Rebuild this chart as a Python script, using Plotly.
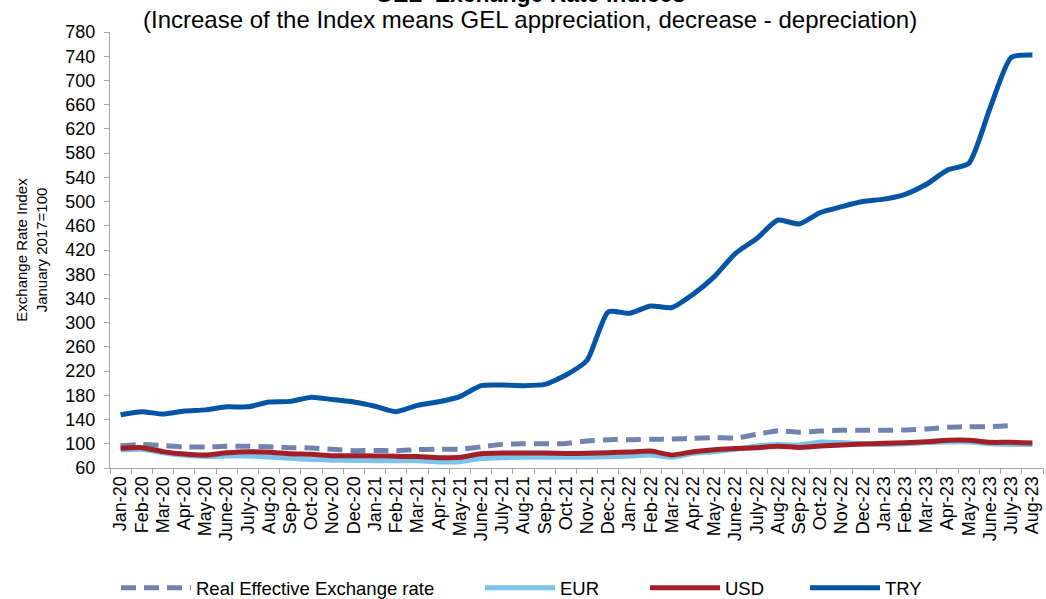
import plotly.graph_objects as go

months = ["Jan-20", "Feb-20", "Mar-20", "Apr-20", "May-20", "June-20", "July-20", "Aug-20", "Sep-20", "Oct-20", "Nov-20", "Dec-20",
          "Jan-21", "Feb-21", "Mar-21", "Apr-21", "May-21", "June-21", "July-21", "Aug-21", "Sep-21", "Oct-21", "Nov-21", "Dec-21",
          "Jan-22", "Feb-22", "Mar-22", "Apr-22", "May-22", "June-22", "July-22", "Aug-22", "Sep-22", "Oct-22", "Nov-22", "Dec-22",
          "Jan-23", "Feb-23", "Mar-23", "Apr-23", "May-23", "June-23", "July-23", "Aug-23"]

reer = [96.8, 99, 97, 94.7, 94.7, 95.8, 95.8, 95, 93.6, 93, 90.8,
        88.6, 89, 88.5, 90.3, 91, 91, 95, 99, 100, 100, 100.5,
        104.6, 106.8, 106.8, 107.4, 108, 109, 110, 109.6, 115.6, 121.6, 119,
        121, 122.2, 122.2, 122.2, 122.7, 124.4, 127.2, 128.3, 128.3, 129.9, None]

eur = [90, 91, 85, 81, 79, 80, 80, 78, 76, 74, 73,
       72.5, 72, 72, 72, 70, 70.5, 75.5, 77, 77.6, 77.6, 77.6,
       77.6, 78.6, 79.8, 81.5, 77.6, 84.2, 87, 91, 96.3, 99, 98,
       103, 102, 100, 99, 100, 102, 103, 103, 100, 99, 99]

usd = [92.5, 93.6, 87, 83, 81.5, 85, 87, 86, 83.6, 82.6, 80.3,
       80.3, 80, 79.3, 78.8, 77, 77.6, 83.6, 84.8, 84.8, 84.8, 84,
       84.2, 85.3, 86.4, 88, 81.5, 87, 90.3, 92, 93.6, 95.8, 94,
       96.3, 98, 99.6, 100.7, 101.8, 103.4, 105.7, 105.7, 102.4, 102.4, 101.3]

try_ = [148, 153, 149, 154, 156, 161, 161, 169, 170, 177, 173, 169,
        162, 153, 163.5, 169.5, 178, 196, 197, 196, 198, 213.5, 238, 318,
        315.5, 327.5, 325, 347, 376, 414.5, 439, 469.5, 463, 482, 491.5, 500,
        504, 512, 528.5, 552, 563, 654, 738, 742]

y_ticks = list(range(60, 781, 40))

FONT = "Liberation Sans, Arial, sans-serif"

fig = go.Figure()
series = [
    ("Real Effective Exchange rate", reer, "#7082ae", "15px,8px", "legend"),
    ("EUR", eur, "#7cc3e9", "solid", "legend2"),
    ("USD", usd, "#a31f28", "solid", "legend3"),
    ("TRY", try_, "#0455a6", "solid", "legend4"),
]
for name, vals, color, dash, lg in series:
    fig.add_trace(go.Scatter(
        x=months, y=vals, name=name, mode="lines",
        line=dict(color=color, width=5, dash=dash, shape="spline", smoothing=0.6),
        legend=lg, connectgaps=False,
    ))

leg_common = dict(orientation="h", xref="container", yref="container",
                  yanchor="middle", xanchor="left", y=0.018,
                  font=dict(family=FONT, size=18.5, color="#000000"),
                  itemwidth=70, bgcolor="rgba(0,0,0,0)")

fig.update_layout(
    width=1046, height=599,
    margin=dict(l=110, r=3, t=32, b=131),
    paper_bgcolor="white", plot_bgcolor="white",
    font=dict(family=FONT, color="#000000"),
    showlegend=True,
    legend=dict(x=116 / 1046, **leg_common),
    legend2=dict(x=480 / 1046, **leg_common),
    legend3=dict(x=645 / 1046, **leg_common),
    legend4=dict(x=805 / 1046, **leg_common),
    xaxis=dict(
        type="category", categoryorder="array", categoryarray=months,
        tickmode="array", tickvals=months, ticktext=months,
        tickangle=-90, tickfont=dict(family=FONT, size=18, color="#000000"),
        showline=True, linecolor="#a6a6a6", linewidth=1,
        ticks="outside", ticklen=5, tickcolor="#a6a6a6", tickson="boundaries",
        showgrid=False, zeroline=False, range=[-0.5, len(months) - 0.5],
    ),
    yaxis=dict(
        range=[60, 780], tickvals=y_ticks, ticktext=[str(v) for v in y_ticks],
        tickfont=dict(family=FONT, size=18, color="#000000"),
        showline=True, linecolor="#a6a6a6", linewidth=1,
        ticks="outside", ticklen=5, tickcolor="#a6a6a6", ticklabelstandoff=5,
        showgrid=False, zeroline=False,
        title=dict(text="Exchange Rate Index<br>January 2017=100",
                   font=dict(family=FONT, size=15, color="#000000"), standoff=14),
    ),
    annotations=[
        dict(text="<b>GEL  Exchange Rate Indices</b>", xref="paper", yref="paper",
             x=(530 - 110) / 933, y=1 + (32 + 6) / 436, xanchor="center", yanchor="middle",
             showarrow=False, font=dict(family=FONT, size=23, color="#000000")),
        dict(text="(Increase of the Index means GEL appreciation, decrease - depreciation)",
             xref="paper", yref="paper",
             x=(530 - 110) / 933, y=1 + (32 - 19) / 436, xanchor="center", yanchor="middle",
             showarrow=False, font=dict(family=FONT, size=24, color="#000000")),
    ],
)

fig.write_html("out.html", config={"displayModeBar": False},
               post_script="document.body.style.margin='0';")
